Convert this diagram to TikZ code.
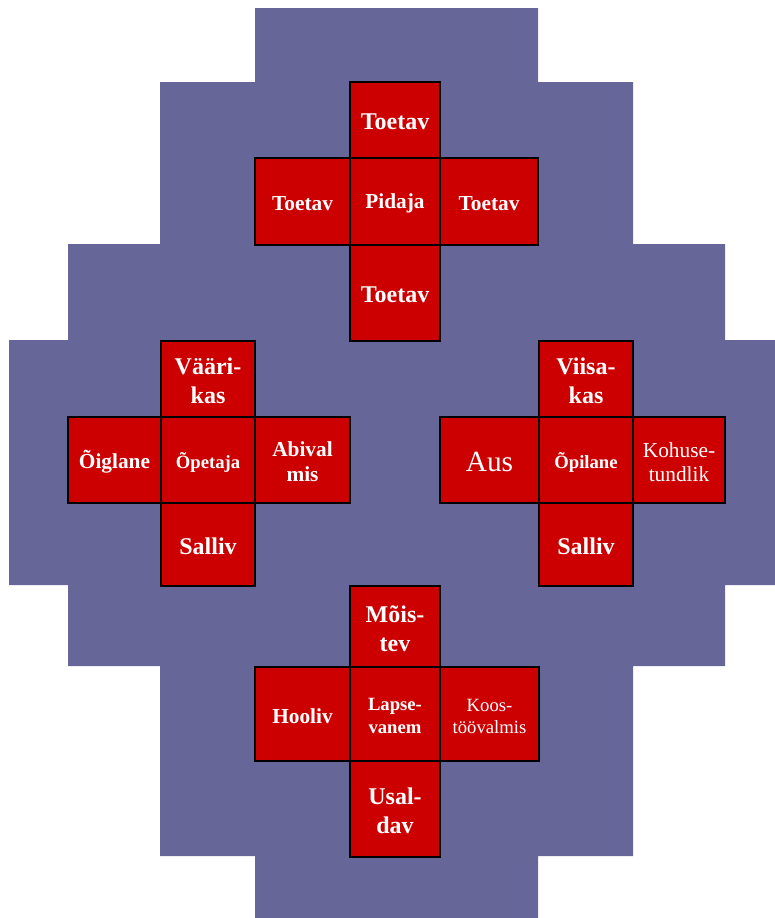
\documentclass[tikz,border=0pt]{standalone}
\usepackage{fontspec}
\setmainfont{Liberation Serif}
\usepackage{xcolor}
\usepackage{tikz}
\usetikzlibrary{calc}

\definecolor{taust}{RGB}{102,102,153}
\definecolor{punane}{RGB}{204,0,0}

% one red square with its label in the middle
\newcommand\ruut[7]{%
  \draw[cell] (#2,#3) rectangle (#4,#5);
  \node[#6] (#1) at ($(#2,#3)!0.5!(#4,#5)$) {#7};}

\begin{document}
\begin{tikzpicture}[x=0.75pt, y=-0.75pt,
    cell/.style={draw=black, line width=1pt, fill=punane},
    lab/.style={text=white, align=center, inner sep=0pt, yshift=-1.5pt},
    suur/.style={lab, font=\bfseries\fontsize{18}{21.5}\selectfont},
    kesk/.style={lab, font=\bfseries\fontsize{16}{18.5}\selectfont},
    vaike/.style={lab, font=\bfseries\fontsize{14}{17}\selectfont},
    tavkesk/.style={lab, font=\fontsize{16}{18}\selectfont},
    tavvaike/.style={lab, font=\fontsize{14}{16.5}\selectfont},
    tavsuur/.style={lab, font=\fontsize{22}{24}\selectfont}]
  \useasboundingbox (0,0) rectangle (775,918);
  % stepped background
  \fill[taust] (255,8) -- (538,8) -- (538,82) -- (633,82) -- (633,244)
    -- (725,244) -- (725,340) -- (775,340) -- (775,585) -- (725,585)
    -- (725,666) -- (633,666) -- (633,856) -- (538,856) -- (538,918)
    -- (255,918) -- (255,856) -- (160,856) -- (160,666) -- (68,666)
    -- (68,585) -- (9,585) -- (9,340) -- (68,340) -- (68,244)
    -- (160,244) -- (160,82) -- (255,82) -- cycle;
  % top cross
  \ruut{tN}{350}{82}{440}{158}{suur}{Toetav}
  \ruut{tW}{255}{158}{350}{245}{kesk}{Toetav}
  \ruut{tC}{350}{158}{440}{245}{kesk}{Pidaja}
  \ruut{tE}{440}{158}{538}{245}{kesk}{Toetav}
  \ruut{tS}{350}{245}{440}{341}{suur}{Toetav}
  % left cross
  \ruut{lN}{161}{341}{255}{417}{suur}{Vääri-\\kas}
  \ruut{lW}{68}{417}{161}{503}{kesk}{Õiglane}
  \ruut{lC}{161}{417}{255}{503}{vaike}{Õpetaja}
  \ruut{lE}{255}{417}{350}{503}{kesk}{Abival\\mis}
  \ruut{lS}{161}{503}{255}{586}{suur}{Salliv}
  % right cross
  \ruut{rN}{539}{341}{633}{417}{suur}{Viisa-\\kas}
  \ruut{rW}{440}{417}{539}{503}{tavsuur}{Aus}
  \ruut{rC}{539}{417}{633}{503}{vaike}{Õpilane}
  \ruut{rE}{633}{417}{725}{503}{tavkesk}{Kohuse-\\tundlik}
  \ruut{rS}{539}{503}{633}{586}{suur}{Salliv}
  % bottom cross
  \ruut{bN}{350}{586}{440}{667}{suur}{Mõis-\\tev}
  \ruut{bW}{255}{667}{350}{761}{kesk}{Hooliv}
  \ruut{bC}{350}{667}{440}{761}{vaike}{Lapse-\\vanem}
  \ruut{bE}{440}{667}{539}{761}{tavvaike}{Koos-\\töövalmis}
  \ruut{bS}{350}{761}{440}{857}{suur}{Usal-\\dav}
\end{tikzpicture}
\end{document}
